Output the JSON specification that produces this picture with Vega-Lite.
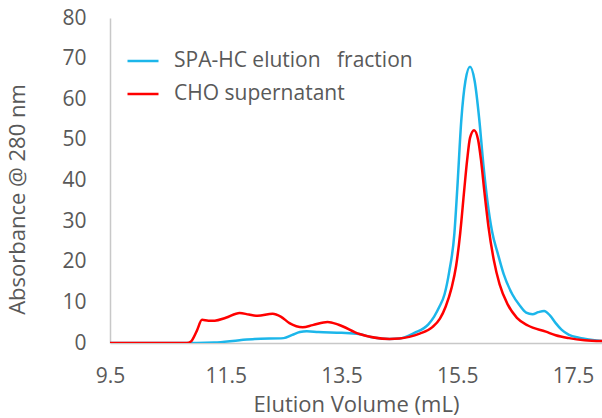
{
  "$schema": "https://vega.github.io/schema/vega-lite/v6.json",
  "width": 492,
  "height": 325,
  "autosize": {"type": "none"},
  "padding": {"left": 110, "top": 18, "right": 0, "bottom": 75},
  "background": "white",
  "config": {
    "view": {"stroke": null},
    "font": "Open Sans"
  },
  "datasets": {
    "d": [
      {"v": 9.5, "a": 0, "s": "SPA-HC elution\u00a0\u00a0 fraction"},
      {"v": 10.5, "a": 0, "s": "SPA-HC elution\u00a0\u00a0 fraction"},
      {"v": 11.0, "a": 0, "s": "SPA-HC elution\u00a0\u00a0 fraction"},
      {"v": 11.3, "a": 0.1, "s": "SPA-HC elution\u00a0\u00a0 fraction"},
      {"v": 11.74, "a": 0.7, "s": "SPA-HC elution\u00a0\u00a0 fraction"},
      {"v": 12.0, "a": 1.0, "s": "SPA-HC elution\u00a0\u00a0 fraction"},
      {"v": 12.5, "a": 1.2, "s": "SPA-HC elution\u00a0\u00a0 fraction"},
      {"v": 12.65, "a": 2.0, "s": "SPA-HC elution\u00a0\u00a0 fraction"},
      {"v": 12.78, "a": 2.7, "s": "SPA-HC elution\u00a0\u00a0 fraction"},
      {"v": 12.9, "a": 2.9, "s": "SPA-HC elution\u00a0\u00a0 fraction"},
      {"v": 13.1, "a": 2.7, "s": "SPA-HC elution\u00a0\u00a0 fraction"},
      {"v": 13.5, "a": 2.5, "s": "SPA-HC elution\u00a0\u00a0 fraction"},
      {"v": 13.8, "a": 2.2, "s": "SPA-HC elution\u00a0\u00a0 fraction"},
      {"v": 14.0, "a": 1.5, "s": "SPA-HC elution\u00a0\u00a0 fraction"},
      {"v": 14.33, "a": 1.0, "s": "SPA-HC elution\u00a0\u00a0 fraction"},
      {"v": 14.5, "a": 1.1, "s": "SPA-HC elution\u00a0\u00a0 fraction"},
      {"v": 14.76, "a": 2.5, "s": "SPA-HC elution\u00a0\u00a0 fraction"},
      {"v": 15.0, "a": 4.6, "s": "SPA-HC elution\u00a0\u00a0 fraction"},
      {"v": 15.1, "a": 6.5, "s": "SPA-HC elution\u00a0\u00a0 fraction"},
      {"v": 15.19, "a": 8.9, "s": "SPA-HC elution\u00a0\u00a0 fraction"},
      {"v": 15.28, "a": 12, "s": "SPA-HC elution\u00a0\u00a0 fraction"},
      {"v": 15.36, "a": 17.5, "s": "SPA-HC elution\u00a0\u00a0 fraction"},
      {"v": 15.45, "a": 27, "s": "SPA-HC elution\u00a0\u00a0 fraction"},
      {"v": 15.5, "a": 38, "s": "SPA-HC elution\u00a0\u00a0 fraction"},
      {"v": 15.57, "a": 55, "s": "SPA-HC elution\u00a0\u00a0 fraction"},
      {"v": 15.64, "a": 64.5, "s": "SPA-HC elution\u00a0\u00a0 fraction"},
      {"v": 15.72, "a": 68, "s": "SPA-HC elution\u00a0\u00a0 fraction"},
      {"v": 15.8, "a": 64.5, "s": "SPA-HC elution\u00a0\u00a0 fraction"},
      {"v": 15.88, "a": 55, "s": "SPA-HC elution\u00a0\u00a0 fraction"},
      {"v": 15.95, "a": 44, "s": "SPA-HC elution\u00a0\u00a0 fraction"},
      {"v": 16.02, "a": 35, "s": "SPA-HC elution\u00a0\u00a0 fraction"},
      {"v": 16.1, "a": 27.5, "s": "SPA-HC elution\u00a0\u00a0 fraction"},
      {"v": 16.2, "a": 22, "s": "SPA-HC elution\u00a0\u00a0 fraction"},
      {"v": 16.3, "a": 17, "s": "SPA-HC elution\u00a0\u00a0 fraction"},
      {"v": 16.45, "a": 12, "s": "SPA-HC elution\u00a0\u00a0 fraction"},
      {"v": 16.57, "a": 9.4, "s": "SPA-HC elution\u00a0\u00a0 fraction"},
      {"v": 16.69, "a": 7.5, "s": "SPA-HC elution\u00a0\u00a0 fraction"},
      {"v": 16.8, "a": 7.1, "s": "SPA-HC elution\u00a0\u00a0 fraction"},
      {"v": 16.9, "a": 7.6, "s": "SPA-HC elution\u00a0\u00a0 fraction"},
      {"v": 17.0, "a": 7.9, "s": "SPA-HC elution\u00a0\u00a0 fraction"},
      {"v": 17.1, "a": 6.8, "s": "SPA-HC elution\u00a0\u00a0 fraction"},
      {"v": 17.2, "a": 4.9, "s": "SPA-HC elution\u00a0\u00a0 fraction"},
      {"v": 17.3, "a": 3.3, "s": "SPA-HC elution\u00a0\u00a0 fraction"},
      {"v": 17.43, "a": 2.0, "s": "SPA-HC elution\u00a0\u00a0 fraction"},
      {"v": 17.6, "a": 1.3, "s": "SPA-HC elution\u00a0\u00a0 fraction"},
      {"v": 17.72, "a": 1.0, "s": "SPA-HC elution\u00a0\u00a0 fraction"},
      {"v": 18.0, "a": 0.5, "s": "SPA-HC elution\u00a0\u00a0 fraction"},

      {"v": 9.5, "a": 0, "s": "CHO supernatant"},
      {"v": 10.5, "a": 0, "s": "CHO supernatant"},
      {"v": 10.83, "a": 0, "s": "CHO supernatant"},
      {"v": 10.9, "a": 0.4, "s": "CHO supernatant"},
      {"v": 11.0, "a": 3.0, "s": "CHO supernatant"},
      {"v": 11.09, "a": 5.7, "s": "CHO supernatant"},
      {"v": 11.2, "a": 5.5, "s": "CHO supernatant"},
      {"v": 11.31, "a": 5.5, "s": "CHO supernatant"},
      {"v": 11.5, "a": 6.2, "s": "CHO supernatant"},
      {"v": 11.74, "a": 7.4, "s": "CHO supernatant"},
      {"v": 11.9, "a": 7.0, "s": "CHO supernatant"},
      {"v": 12.05, "a": 6.7, "s": "CHO supernatant"},
      {"v": 12.31, "a": 7.2, "s": "CHO supernatant"},
      {"v": 12.45, "a": 6.5, "s": "CHO supernatant"},
      {"v": 12.6, "a": 4.9, "s": "CHO supernatant"},
      {"v": 12.83, "a": 3.9, "s": "CHO supernatant"},
      {"v": 13.0, "a": 4.4, "s": "CHO supernatant"},
      {"v": 13.26, "a": 5.2, "s": "CHO supernatant"},
      {"v": 13.45, "a": 4.5, "s": "CHO supernatant"},
      {"v": 13.81, "a": 2.2, "s": "CHO supernatant"},
      {"v": 14.33, "a": 1.0, "s": "CHO supernatant"},
      {"v": 14.5, "a": 1.1, "s": "CHO supernatant"},
      {"v": 14.67, "a": 1.5, "s": "CHO supernatant"},
      {"v": 14.85, "a": 2.3, "s": "CHO supernatant"},
      {"v": 15.07, "a": 3.9, "s": "CHO supernatant"},
      {"v": 15.2, "a": 6.0, "s": "CHO supernatant"},
      {"v": 15.3, "a": 9.0, "s": "CHO supernatant"},
      {"v": 15.4, "a": 13.5, "s": "CHO supernatant"},
      {"v": 15.48, "a": 19, "s": "CHO supernatant"},
      {"v": 15.55, "a": 27, "s": "CHO supernatant"},
      {"v": 15.62, "a": 37.7, "s": "CHO supernatant"},
      {"v": 15.67, "a": 45, "s": "CHO supernatant"},
      {"v": 15.72, "a": 50.5, "s": "CHO supernatant"},
      {"v": 15.79, "a": 52.4, "s": "CHO supernatant"},
      {"v": 15.86, "a": 50, "s": "CHO supernatant"},
      {"v": 15.91, "a": 45, "s": "CHO supernatant"},
      {"v": 15.97, "a": 37, "s": "CHO supernatant"},
      {"v": 16.04, "a": 28.5, "s": "CHO supernatant"},
      {"v": 16.13, "a": 20.5, "s": "CHO supernatant"},
      {"v": 16.23, "a": 14.5, "s": "CHO supernatant"},
      {"v": 16.37, "a": 9.5, "s": "CHO supernatant"},
      {"v": 16.53, "a": 6.2, "s": "CHO supernatant"},
      {"v": 16.72, "a": 4.3, "s": "CHO supernatant"},
      {"v": 17.03, "a": 2.8, "s": "CHO supernatant"},
      {"v": 17.2, "a": 1.9, "s": "CHO supernatant"},
      {"v": 17.43, "a": 1.2, "s": "CHO supernatant"},
      {"v": 17.7, "a": 0.7, "s": "CHO supernatant"},
      {"v": 18.0, "a": 0.5, "s": "CHO supernatant"}
    ]
  },
  "data": {"name": "d"},
  "mark": {"type": "line", "interpolate": "monotone", "strokeWidth": 2.5, "clip": true},
  "encoding": {
    "x": {
      "field": "v", "type": "quantitative",
      "scale": {"domain": [9.5, 18], "nice": false, "zero": false},
      "axis": {
        "title": "Elution Volume (mL)",
        "values": [9.5, 11.5, 13.5, 15.5, 17.5],
        "format": ".1f",
        "grid": false, "ticks": false,
        "labelFlush": false,
        "domainColor": "#c8c8c8", "domainWidth": 1.5,
        "labelFont": "Open Sans", "labelFontSize": 21, "labelColor": "#595959",
        "labelPadding": 22,
        "titleFont": "Open Sans", "titleFontSize": 22, "titleFontWeight": "normal", "titleColor": "#595959",
        "titlePadding": 8
      }
    },
    "y": {
      "field": "a", "type": "quantitative",
      "scale": {"domain": [0, 80], "nice": false},
      "axis": {
        "title": "Absorbance @ 280 nm",
        "values": [0, 10, 20, 30, 40, 50, 60, 70, 80],
        "grid": false, "ticks": false,
        "labelFlush": false,
        "domainColor": "#c8c8c8", "domainWidth": 1.5,
        "labelFont": "Open Sans", "labelFontSize": 21, "labelColor": "#595959",
        "labelPadding": 24,
        "titleFont": "Open Sans", "titleFontSize": 22, "titleFontWeight": "normal", "titleColor": "#595959",
        "titleY": 181,
        "titleX": -93,
        "titleBaseline": "middle",
        "titleAlign": "center",
        "titleAngle": -90
      }
    },
    "color": {
      "field": "s", "type": "nominal",
      "sort": ["SPA-HC elution\u00a0\u00a0 fraction", "CHO supernatant"],
      "scale": {"domain": ["SPA-HC elution\u00a0\u00a0 fraction", "CHO supernatant"], "range": ["#1cb6ea", "#ff0000"]},
      "legend": {
        "title": null,
        "orient": "none",
        "legendX": 16,
        "legendY": 26,
        "symbolType": "stroke",
        "symbolSize": 961,
        "symbolStrokeWidth": 2.5,
        "labelFont": "Open Sans", "labelFontSize": 21, "labelColor": "#595959",
        "labelLimit": 0,
        "labelOffset": 14,
        "rowPadding": 6,
        "padding": 0
      }
    }
  }
}
